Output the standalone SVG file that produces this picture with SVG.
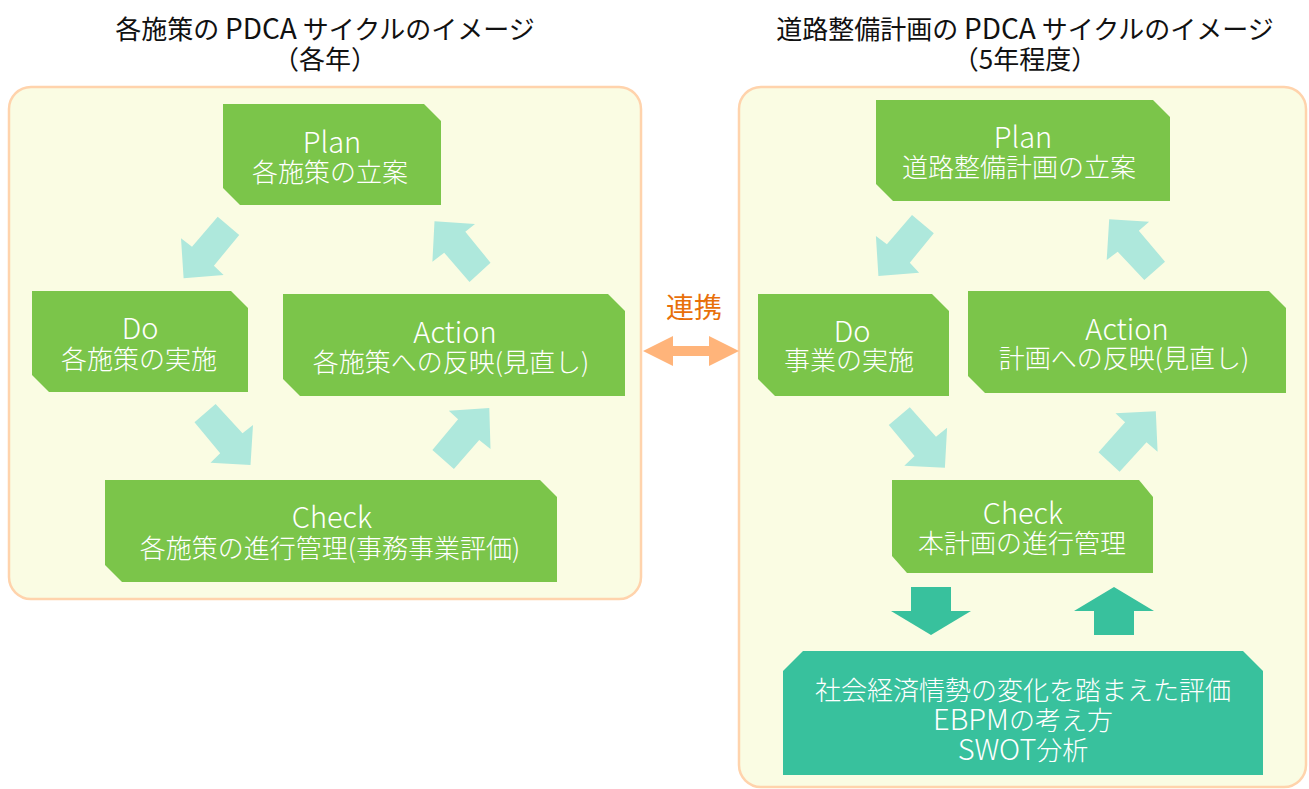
<svg xmlns="http://www.w3.org/2000/svg" width="1309" height="789" viewBox="0 0 1309 789">
<style>
text{font-family:"Noto Sans CJK JP","Noto Sans",sans-serif;text-anchor:middle;font-weight:300}
.title{font-size:26px;fill:#111;font-weight:400}
.nt{font-size:26px;fill:#fff}
.lt{font-size:29px;fill:#fff}
.l{font-size:29px}
.tl{font-size:28px}
.panel{fill:#FAFCE3;stroke:#FFD3AC;stroke-width:2.5}
.node{fill:#7BC54A}
.la{fill:#AEE8DC}
.da{fill:#38C19D}
.link{fill:#E8700A;font-size:28px;font-weight:400}
</style>
<rect width="1309" height="789" fill="#fff"/>
<g id="titles">
<text class="title" x="325" y="39">各施策の <tspan class="tl">PDCA</tspan> サイクルのイメージ</text>
<text class="title" x="325" y="69">（各年）</text>
<text class="title" x="1025" y="39">道路整備計画の <tspan class="tl">PDCA</tspan> サイクルのイメージ</text>
<text class="title" x="1025" y="69">（5年程度）</text>
</g>
<g id="panel-left"><rect class="panel" x="9" y="87" width="632" height="512" rx="22"/></g>
<g id="panel-right"><rect class="panel" x="739" y="87" width="567" height="700" rx="22"/></g>
<g id="connectors">
<polygon class="la" points="217.7,216.7 239.2,235 213.9,265.7 223.6,275 183.6,278.3 181,238.3 192,246.7"/>
<polygon class="la" points="434.5,221.3 475,224 465.3,231.7 490.5,262.7 469.5,282 444.2,252.7 432.4,261.7"/>
<polygon class="la" points="215.6,404 242.5,433.3 253,425 250.5,465 210.5,462.7 220.2,453.3 194.5,422.3"/>
<polygon class="la" points="432.4,450 453.9,469 479.2,440 490.5,449 489.3,408 448.8,410.7 458.1,419.3"/>
<polygon class="la" points="912,215 933.8,233.3 909.8,262.7 919.1,272.7 878.4,276 875.9,236 886.9,244.3"/>
<polygon class="la" points="1109.2,219.3 1149.1,221.7 1138.8,230.7 1165,261.7 1144.3,280 1117.7,251.7 1106.7,260"/>
<polygon class="la" points="909.8,407.3 936,436.7 947.1,427.7 944.9,467.7 904.3,465.7 914.6,456 888.8,425"/>
<polygon class="la" points="1098.5,452.3 1119.6,471.7 1146.5,442.3 1157.6,451.7 1155.8,411.3 1115.5,413.3 1125.1,422.3"/>
<polygon class="da" points="911,587 951,587 951,611 971,611 931,635 891,611 911,611"/>
<polygon class="da" points="1114,587 1154,611 1134,611 1134,635 1094,635 1094,611 1074,611"/>
<polygon fill="#FFB47A" points="643,351 673,336 673,346 709,346 709,336 739,351 709,366 709,356 673,356 673,366"/>
<text class="link" x="694" y="318">連携</text>
</g>
<g id="plan-left">
<polygon class="node" points="223,104 424,104 441,121 441,205 240,205 223,188"/>
<text class="lt" x="332" y="153">Plan</text>
<text class="nt" x="330" y="182">各施策の立案</text>
</g>
<g id="do-left">
<polygon class="node" points="32,291 231,291 248,308 248,392 49,392 32,375"/>
<text class="lt" x="140" y="339">Do</text>
<text class="nt" x="139" y="369">各施策の実施</text>
</g>
<g id="action-left">
<polygon class="node" points="283,294 608,294 625,311 625,396 300,396 283,379"/>
<text class="lt" x="455" y="343">Action</text>
<text class="nt" x="451" y="372">各施策への反映(見直し)</text>
</g>
<g id="check-left">
<polygon class="node" points="105,480 540,480 557,497 557,582 122,582 105,565"/>
<text class="lt" x="332" y="528">Check</text>
<text class="nt" x="330" y="558">各施策の進行管理(事務事業評価)</text>
</g>
<g id="plan-right">
<polygon class="node" points="876,100 1153,100 1170,117 1170,201 893,201 876,184"/>
<text class="lt" x="1023" y="148">Plan</text>
<text class="nt" x="1019" y="177">道路整備計画の立案</text>
</g>
<g id="do-right">
<polygon class="node" points="758,294 932,294 949,311 949,396 775,396 758,379"/>
<text class="lt" x="852" y="342">Do</text>
<text class="nt" x="849" y="370">事業の実施</text>
</g>
<g id="action-right">
<polygon class="node" points="968,291 1269,291 1286,308 1286,393 985,393 968,376"/>
<text class="lt" x="1127" y="340">Action</text>
<text class="nt" x="1124" y="368">計画への反映(見直し)</text>
</g>
<g id="check-right">
<polygon class="node" points="892,480 1139,480 1153,497 1153,573 907,573 892,556"/>
<text class="lt" x="1023" y="524">Check</text>
<text class="nt" x="1022" y="553">本計画の進行管理</text>
</g>
<g id="evaluation">
<polygon class="da" points="803,651 1243,651 1263,671 1263,775 783,775 783,671"/>
<text class="nt" x="1023" y="700">社会経済情勢の変化を踏まえた評価</text>
<text class="nt" x="1023" y="730"><tspan class="l">EBPM</tspan>の考え方</text>
<text class="nt" x="1023" y="760"><tspan class="l">SWOT</tspan>分析</text>
</g>
</svg>
